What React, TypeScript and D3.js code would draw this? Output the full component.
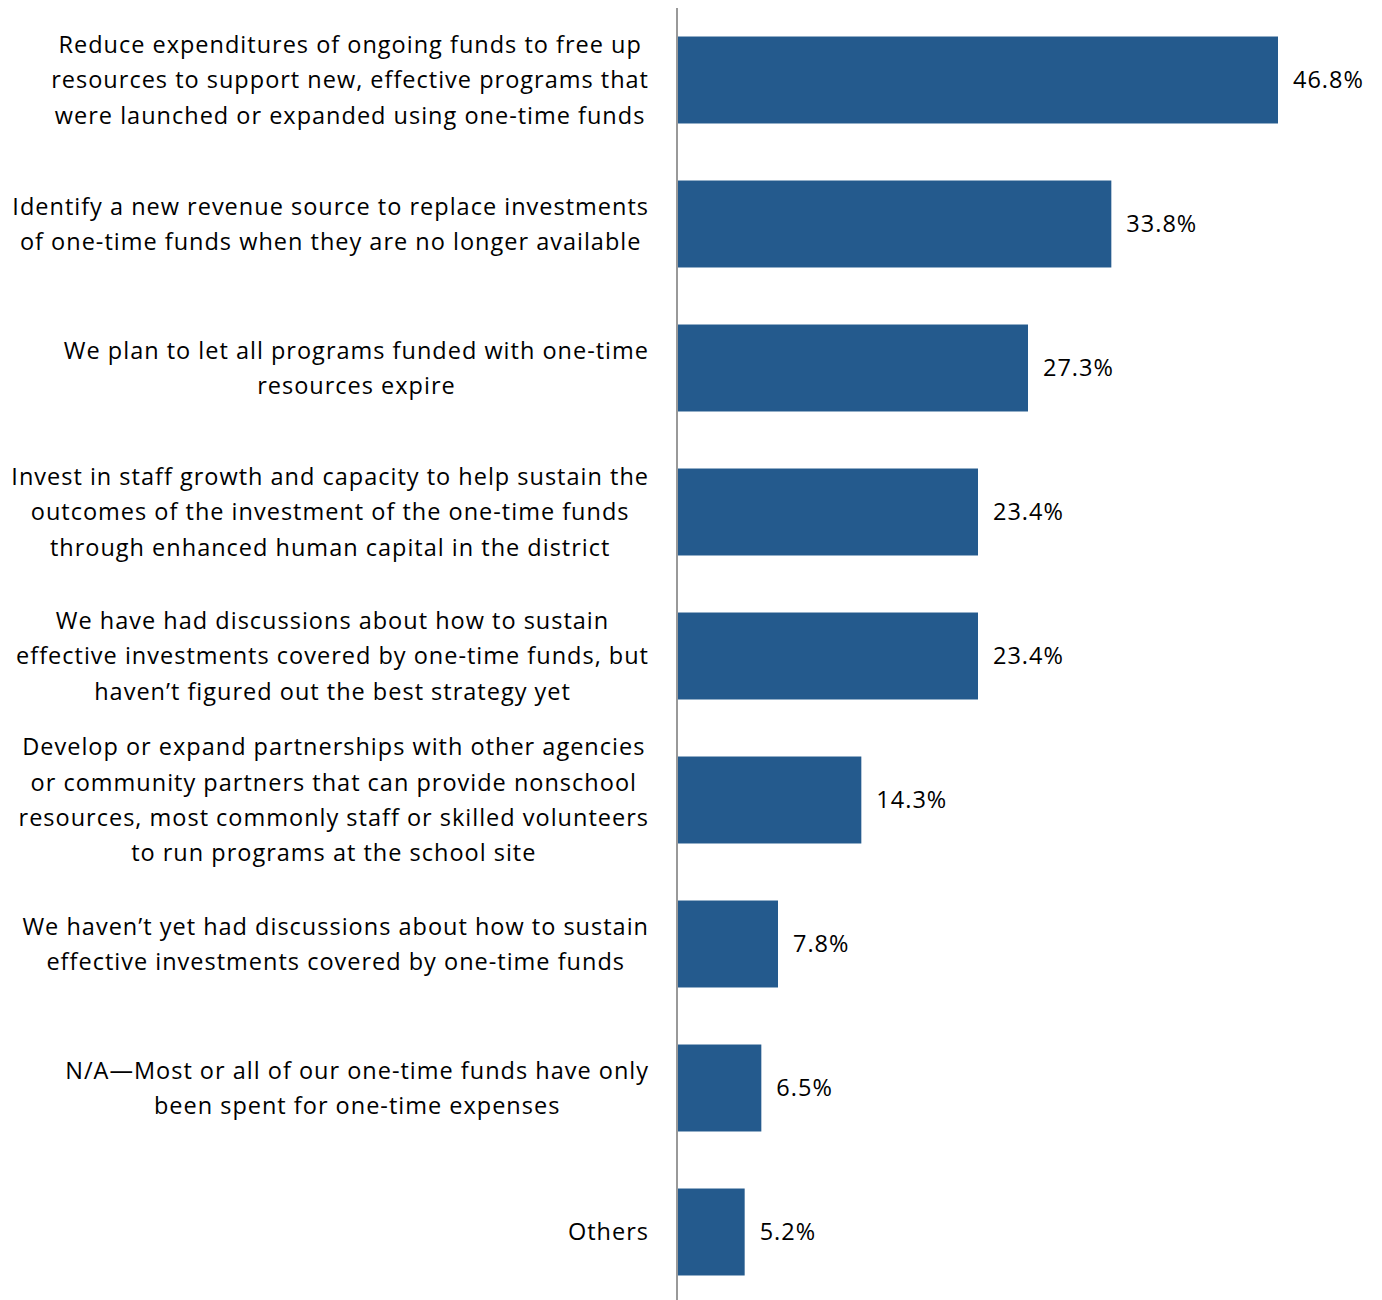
import React, { useEffect, useRef } from "react";
import * as d3 from "d3";

const categories: string[][] = [
  ["Reduce expenditures of ongoing funds to free up", "resources to support new, effective programs that", "were launched or expanded using one-time funds"],
  ["Identify a new revenue source to replace investments", "of one-time funds when they are no longer available"],
  ["We plan to let all programs funded with one-time", "resources expire"],
  ["Invest in staff growth and capacity to help sustain the", "outcomes of the investment of the one-time funds", "through enhanced human capital in the district"],
  ["We have had discussions about how to sustain", "effective investments covered by one-time funds, but", "haven\u2019t figured out the best strategy yet"],
  ["Develop or expand partnerships with other agencies", "or community partners that can provide nonschool", "resources, most commonly staff or skilled volunteers", "to run programs at the school site"],
  ["We haven\u2019t yet had discussions about how to sustain", "effective investments covered by one-time funds"],
  ["N/A\u2014Most or all of our one-time funds have only", "been spent for one-time expenses"],
  ["Others"],
];
const values: number[] = [46.8, 33.8, 27.3, 23.4, 23.4, 14.3, 7.8, 6.5, 5.2];
const valueLabels: string[] = ["46.8%", "33.8%", "27.3%", "23.4%", "23.4%", "14.3%", "7.8%", "6.5%", "5.2%"];

const W = 1382;
const H = 1300;
const FONT = "'Open Sans', sans-serif";
const FS = 23.5;
const LS = 1.0;

export default function App() {
  const ref = useRef<SVGSVGElement>(null);
  useEffect(() => {
    const svg = d3.select(ref.current);
    svg.selectAll("*").remove();
    const x0 = 678;
    const x = d3.scaleLinear().domain([0, 46.8]).range([x0, 1278]);
    const ids = categories.map((_, i) => String(i));
    const y = d3.scaleBand().domain(ids).range([8, 1304]).paddingInner(0.396).paddingOuter(0.198);

    const g = svg.append("g");
    g.selectAll("rect.bar")
      .data(values)
      .enter()
      .append("rect")
      .attr("class", "bar")
      .attr("x", x0)
      .attr("y", (_, i) => y(ids[i])!)
      .attr("width", (d) => x(d) - x0)
      .attr("height", y.bandwidth())
      .attr("fill", "#245a8d");

    g.append("line")
      .attr("x1", 677).attr("x2", 677)
      .attr("y1", 8).attr("y2", H)
      .attr("stroke", "#999999").attr("stroke-width", 2);

    g.selectAll("text.val")
      .data(values)
      .enter()
      .append("text")
      .attr("class", "val")
      .attr("x", (d) => x(d) + 15)
      .attr("y", (_, i) => y(ids[i])! + y.bandwidth() / 2)
      .attr("dy", "0.35em")
      .attr("font-family", FONT)
      .attr("font-size", FS)
      .attr("letter-spacing", LS)
      .attr("fill", "#000")
      .text((_, i) => valueLabels[i]);

    const lh = 35.3;
    categories.forEach((lines, i) => {
      const cy = y(ids[i])! + y.bandwidth() / 2;
      const t = g.append("text")
        .attr("font-family", FONT)
        .attr("font-size", FS)
        .attr("letter-spacing", LS)
        .attr("fill", "#000")
        .attr("text-anchor", "middle");
      const spans = lines.map((ln, j) =>
        t.append("tspan")
          .attr("y", cy + (j - (lines.length - 1) / 2) * lh)
          .attr("dy", "0.35em")
          .text(ln)
      );
      let maxW = 0;
      spans.forEach((s) => {
        const w = (s.node() as SVGTSpanElement).getComputedTextLength();
        if (w > maxW) maxW = w;
      });
      const cx = 649 - maxW / 2;
      spans.forEach((s) => s.attr("x", cx));
    });
  }, []);
  return <svg ref={ref} width={W} height={H} style={{ display: "block", position: "absolute", left: 0, top: 0 }} />;
}
